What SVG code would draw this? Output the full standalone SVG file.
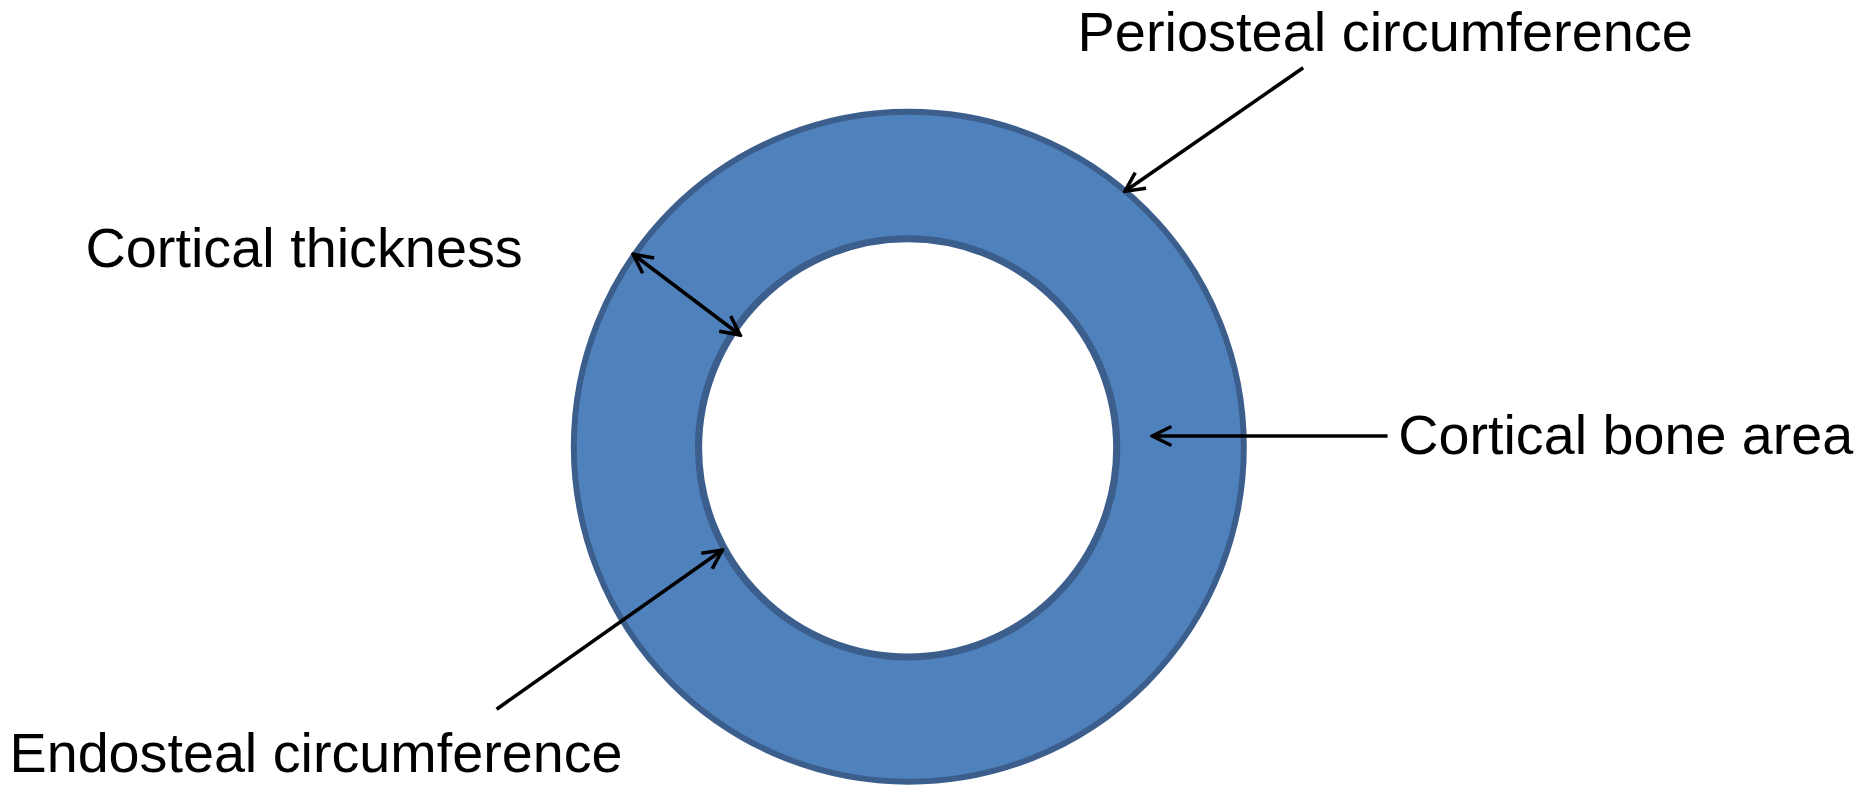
<svg xmlns="http://www.w3.org/2000/svg" width="1863" height="800" viewBox="0 0 1863 800">
<style>
text{font-family:"Liberation Sans",Arial,sans-serif;font-size:46px;fill:#000}
.c line{stroke:#000;stroke-width:3;fill:none}
</style>
<defs>
<marker id="a" viewBox="0 0 20 20" refX="18" refY="10" markerWidth="20" markerHeight="20" markerUnits="userSpaceOnUse" orient="auto-start-reverse">
<polyline points="2,2 18,10 2,18" fill="none" stroke="#000" stroke-width="3"/>
</marker>
</defs>
<rect width="1863" height="800" fill="#fff"/>
<g transform="scale(1.188)">
<g id="ring">
<circle cx="765" cy="376" r="282" fill="#4F81BD" stroke="#3B5E8C" stroke-width="5"/>
<circle cx="764" cy="377" r="176" fill="#fff" stroke="#3B5E8C" stroke-width="6"/>
</g>
<g class="c" id="connectors">
<line x1="1097" y1="57" x2="947" y2="161" marker-end="url(#a)"/>
<line x1="533" y1="214" x2="623" y2="282" marker-start="url(#a)" marker-end="url(#a)"/>
<line x1="1168" y1="367" x2="970" y2="367" marker-end="url(#a)"/>
<line x1="418" y1="597" x2="608" y2="463" marker-end="url(#a)"/>
</g>
<g id="labels">
<text x="907" y="43" textLength="518" lengthAdjust="spacingAndGlyphs">Periosteal circumference</text>
<text x="72" y="225" textLength="368" lengthAdjust="spacingAndGlyphs">Cortical thickness</text>
<text x="1177" y="382" textLength="383" lengthAdjust="spacingAndGlyphs">Cortical bone area</text>
<text x="8" y="650" textLength="516" lengthAdjust="spacingAndGlyphs">Endosteal circumference</text>
</g>
</g>
</svg>
